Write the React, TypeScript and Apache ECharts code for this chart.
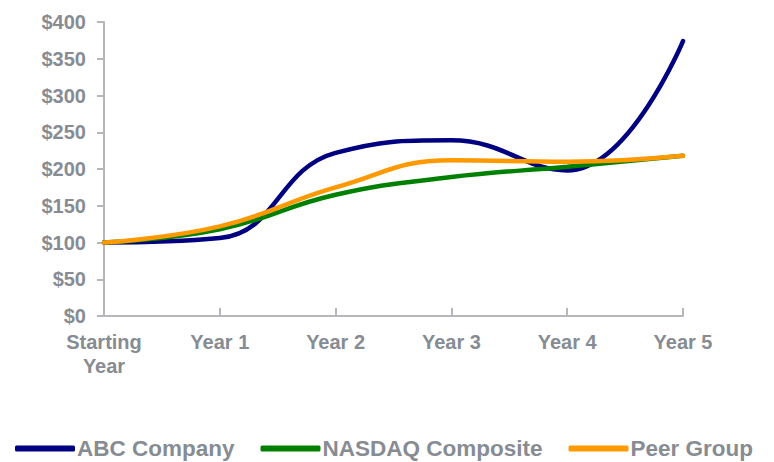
import React, { useEffect, useRef } from "react";
import * as echarts from "echarts";

const categories = ["Starting\nYear", "Year 1", "Year 2", "Year 3", "Year 4", "Year 5"];
const abcCompany = [100, 106, 222, 239, 198, 374];
const nasdaqComposite = [100, 118, 165, 189, 203, 218];
const peerGroup = [100, 122, 175, 212, 210, 218];
const seriesNames = ["ABC Company", "NASDAQ Composite", "Peer Group"];
const seriesColors = ["#000080", "#008000", "#FF9900"];

export default function App() {
  const ref = useRef<HTMLDivElement>(null);
  useEffect(() => {
    document.body.style.margin = "0";
    const chart = echarts.init(ref.current!, null, { renderer: "svg" });
    const labelColor = "#878c93";
    const axisColor = "#b5b7ba";
    const data = [abcCompany, nasdaqComposite, peerGroup];
    chart.setOption({
      animation: false,
      grid: { left: 104, right: 91, top: 22, bottom: 146 },
      legend: {
        left: 10,
        top: 432,
        icon: "roundRect",
        itemWidth: 60,
        itemHeight: 6,
        itemGap: 26,
        textStyle: {
          color: labelColor,
          fontSize: 22.5,
          lineHeight: 22,
          fontWeight: "bold",
          fontFamily: "Liberation Sans, Arial, sans-serif",
          padding: [0, 0, 0, -3],
        },
        data: seriesNames,
      },
      xAxis: {
        type: "category",
        data: categories,
        boundaryGap: false,
        axisLine: { lineStyle: { color: axisColor, width: 2 } },
        axisTick: { inside: true, length: 8, lineStyle: { color: axisColor, width: 2 } },
        axisLabel: {
          color: labelColor,
          fontSize: 20,
          fontWeight: "bold",
          fontFamily: "Liberation Sans, Arial, sans-serif",
          margin: 14,
          lineHeight: 24,
          interval: 0,
        },
      },
      yAxis: {
        type: "value",
        min: 0,
        max: 400,
        interval: 50,
        splitLine: { show: false },
        axisLine: { show: true, lineStyle: { color: axisColor, width: 2 } },
        axisTick: { show: true, length: 7, lineStyle: { color: axisColor, width: 2 } },
        axisLabel: {
          color: labelColor,
          fontSize: 20,
          fontWeight: "bold",
          fontFamily: "Liberation Sans, Arial, sans-serif",
          margin: 18,
          formatter: (v: number) => "$" + v,
        },
      },
      series: seriesNames.map((name, i) => ({
        name,
        type: "line",
        data: data[i],
        smooth: 0.45,
        showSymbol: false,
        symbol: "none",
        color: seriesColors[i],
        lineStyle: { width: 4.5, color: seriesColors[i], cap: "round" },
        z: 10 + i,
      })),
    });
    return () => chart.dispose();
  }, []);
  return <div ref={ref} style={{ width: 774, height: 462 }} />;
}
